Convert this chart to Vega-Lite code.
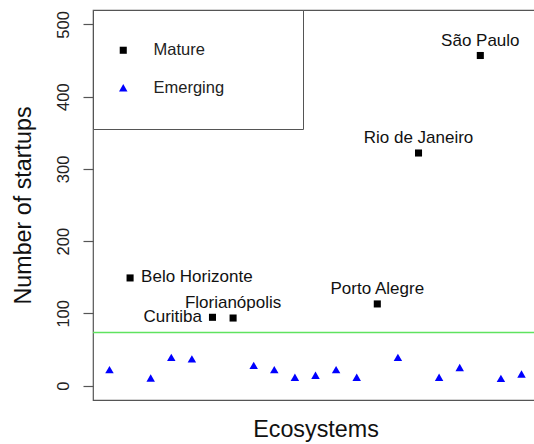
{
  "$schema": "https://vega.github.io/schema/vega-lite/v6.json",
  "autosize": {"type": "none"},
  "padding": {"left": 93, "top": 10, "right": -4, "bottom": 44},
  "width": 445,
  "height": 390,
  "config": {
    "font": "Liberation Sans",
    "view": {"stroke": "#555", "strokeWidth": 1.2},
    "axis": {"grid": false}
  },
  "datasets": {
    "eco": [
      {"i": 1, "n": 22, "type": "Emerging", "city": ""},
      {"i": 2, "n": 149, "type": "Mature", "city": "Belo Horizonte"},
      {"i": 3, "n": 10.5, "type": "Emerging", "city": ""},
      {"i": 4, "n": 39, "type": "Emerging", "city": ""},
      {"i": 5, "n": 37, "type": "Emerging", "city": ""},
      {"i": 6, "n": 94.5, "type": "Mature", "city": "Curitiba"},
      {"i": 7, "n": 93.5, "type": "Mature", "city": "Florianópolis"},
      {"i": 8, "n": 28, "type": "Emerging", "city": ""},
      {"i": 9, "n": 22, "type": "Emerging", "city": ""},
      {"i": 10, "n": 11.5, "type": "Emerging", "city": ""},
      {"i": 11, "n": 14.3, "type": "Emerging", "city": ""},
      {"i": 12, "n": 22, "type": "Emerging", "city": ""},
      {"i": 13, "n": 11.5, "type": "Emerging", "city": ""},
      {"i": 14, "n": 113, "type": "Mature", "city": "Porto Alegre"},
      {"i": 15, "n": 39, "type": "Emerging", "city": ""},
      {"i": 16, "n": 322, "type": "Mature", "city": "Rio de Janeiro"},
      {"i": 17, "n": 11.5, "type": "Emerging", "city": ""},
      {"i": 18, "n": 25, "type": "Emerging", "city": ""},
      {"i": 19, "n": 457, "type": "Mature", "city": "São Paulo"},
      {"i": 20, "n": 10, "type": "Emerging", "city": ""},
      {"i": 21, "n": 16, "type": "Emerging", "city": ""}
    ]
  },
  "layer": [
    {
      "data": {"values": [{"threshold": 73.4}]},
      "mark": {"type": "rule", "color": "#5fe35f", "strokeWidth": 1.6},
      "encoding": {
        "y": {"field": "threshold", "type": "quantitative", "scale": {"domain": [-20, 520], "nice": false, "zero": false}}
      }
    },
    {
      "data": {"name": "eco"},
      "mark": {"type": "point", "filled": true, "opacity": 1},
      "encoding": {
        "x": {"field": "i", "type": "quantitative", "scale": {"domain": [0.2, 21.8], "nice": false, "zero": false},
          "axis": {"labels": false, "ticks": false, "domain": false, "title": "Ecosystems", "titleFontSize": 23.3, "titleFontWeight": "normal", "titleColor": "#111", "titleX": 222.5, "titleY": 36, "titleBaseline": "alphabetic", "titleAlign": "center", "titleAnchor": null}},
        "y": {"field": "n", "type": "quantitative", "scale": {"domain": [-20, 520], "nice": false, "zero": false},
          "axis": {"values": [0, 100, 200, 300, 400, 500], "domain": false, "tickSize": 10, "tickColor": "#555", "tickWidth": 1.2, "labelAngle": -90, "labelAlign": "center", "labelBaseline": "alphabetic", "labelPadding": 15, "labelFontSize": 16.5, "labelColor": "#222", "title": "Number of startups", "titleFontSize": 23.3, "titleFontWeight": "normal", "titleColor": "#111", "titleAngle": -90, "titleX": -63, "titleY": 195, "titleBaseline": "alphabetic", "titleAlign": "center", "titleAnchor": null}},
        "color": {"field": "type", "type": "nominal", "scale": {"domain": ["Mature", "Emerging"], "range": ["#000000", "#0000ff"]},
          "legend": {"title": "\u00a0", "titleOrient": "right", "titlePadding": 47, "titleFontSize": 16.5, "orient": "none", "legendX": 0, "legendY": 0, "padding": 32, "strokeColor": "#555", "fillColor": "white", "labelFontSize": 16.5, "labelColor": "#222", "symbolOffset": -10, "labelOffset": 22, "rowPadding": 20.5}},
        "shape": {"field": "type", "type": "nominal", "scale": {"domain": ["Mature", "Emerging"], "range": ["square", "triangle-up"]}},
        "size": {"field": "type", "type": "nominal", "scale": {"domain": ["Mature", "Emerging"], "range": [50, 72]}}
      }
    },
    {
      "data": {"name": "eco"},
      "transform": [{"filter": "datum.city == 'Florianópolis' || datum.city == 'Porto Alegre' || datum.city == 'Rio de Janeiro' || datum.city == 'São Paulo'"}],
      "mark": {"type": "text", "fontSize": 17, "color": "#111", "align": "center", "baseline": "alphabetic", "dy": -10},
      "encoding": {
        "x": {"field": "i", "type": "quantitative"},
        "y": {"field": "n", "type": "quantitative"},
        "text": {"field": "city"}
      }
    },
    {
      "data": {"name": "eco"},
      "transform": [{"filter": "datum.city == 'Curitiba'"}],
      "mark": {"type": "text", "fontSize": 17, "color": "#111", "align": "right", "baseline": "alphabetic", "dx": -10.5, "dy": 5},
      "encoding": {
        "x": {"field": "i", "type": "quantitative"},
        "y": {"field": "n", "type": "quantitative"},
        "text": {"field": "city"}
      }
    },
    {
      "data": {"name": "eco"},
      "transform": [{"filter": "datum.city == 'Belo Horizonte'"}],
      "mark": {"type": "text", "fontSize": 17, "color": "#111", "align": "left", "baseline": "alphabetic", "dx": 11, "dy": 4.5},
      "encoding": {
        "x": {"field": "i", "type": "quantitative"},
        "y": {"field": "n", "type": "quantitative"},
        "text": {"field": "city"}
      }
    }
  ]
}
